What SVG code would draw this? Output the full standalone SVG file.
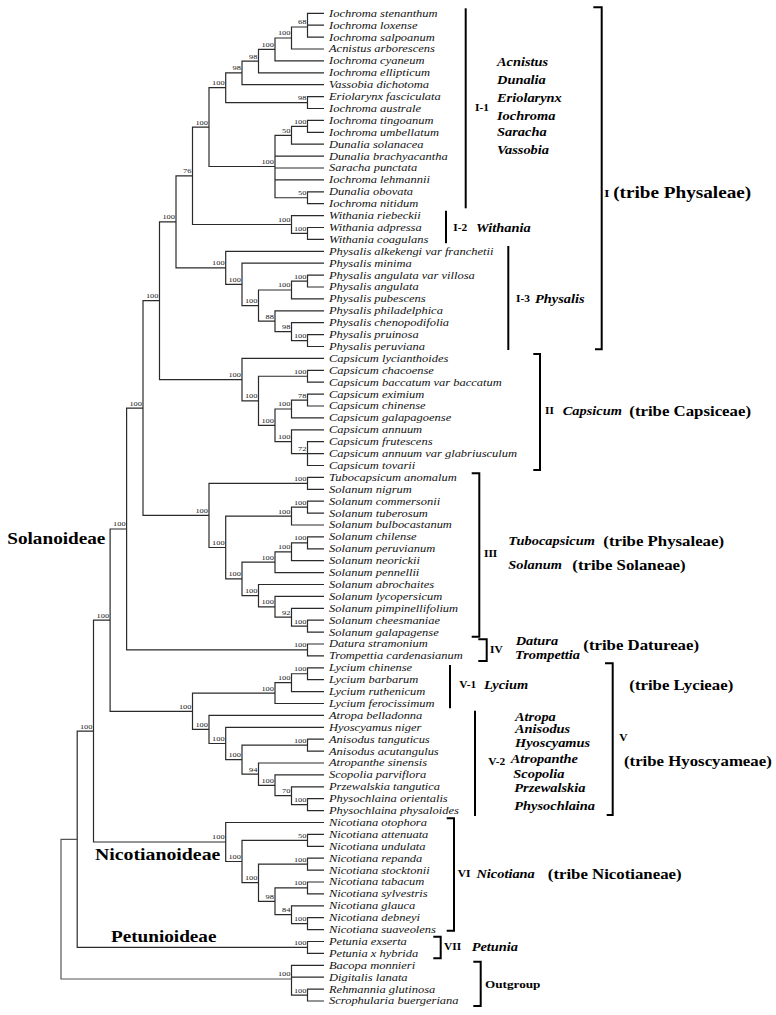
<svg xmlns="http://www.w3.org/2000/svg" width="776" height="1015" viewBox="0 0 776 1015">
<style>
.t{fill:none;stroke:#2a2a2a;stroke-width:1.2}
.b{fill:none;stroke:#000;stroke-width:2}
.l{font-family:"Liberation Serif","Times New Roman",serif;font-style:italic;font-size:10.4px;fill:#111}
.s{font-family:"Liberation Serif","Times New Roman",serif;font-size:7px;fill:#222;text-anchor:end}
.r{font-family:"Liberation Serif","Times New Roman",serif;font-weight:bold;font-size:9.5px;fill:#000}
.g{font-family:"Liberation Serif","Times New Roman",serif;font-weight:bold;font-style:italic;font-size:12px;fill:#000}
.tr{font-family:"Liberation Serif","Times New Roman",serif;font-weight:bold;font-size:14px;fill:#000}
.sf{font-family:"Liberation Serif","Times New Roman",serif;font-weight:bold;font-size:16px;fill:#000}
</style>
<rect width="776" height="1015" fill="#fff"/>
<g id="connectors" class="t">
<path d="M324 13.3H307.5V37.1H324M307.5 25.2H324"/>
<path d="M307.5 27H291.5V49H324"/>
<path d="M291.5 38H275V60.9H324"/>
<path d="M275 49.45H258.5V72.8H324"/>
<path d="M258.5 61.1H242V84.7H324"/>
<path d="M324 96.6H307.5V108.5H324"/>
<path d="M242 72.9H225.7V102.55H307.5"/>
<path d="M324 120.4H307.5V132.3H324"/>
<path d="M307.5 126.35H291.5V144.2H324"/>
<path d="M324 191.8H307.5V203.7H324"/>
<path d="M291.5 135.3H275V197.75H307.5M275 156.1H324M275 168H324M275 179.9H324"/>
<path d="M225.7 87.7H209V166.5H275"/>
<path d="M324 227.5H307.5V239.4H324"/>
<path d="M324 215.6H291.5V233.45H307.5"/>
<path d="M209 127.1H192.5V224.5H291.5"/>
<path d="M324 275.1H307.5V287H324"/>
<path d="M307.5 281.05H291.5V298.9H324"/>
<path d="M324 334.6H307.5V346.5H324"/>
<path d="M324 322.7H291.5V340.55H307.5"/>
<path d="M324 310.8H275V331.6H291.5"/>
<path d="M291.5 290H258.5V321.2H275"/>
<path d="M324 263.2H242V305.6H258.5"/>
<path d="M324 251.3H225.7V284.4H242"/>
<path d="M192.5 175.8H176V267.85H225.7"/>
<path d="M324 370.3H307.5V382.2H324"/>
<path d="M324 394.1H307.5V406H324"/>
<path d="M307.5 400.05H291.5V417.9H324"/>
<path d="M324 441.7H307.5V465.5H324M307.5 453.6H324"/>
<path d="M324 429.8H291.5V453.6H307.5"/>
<path d="M291.5 409H275V441.7H291.5"/>
<path d="M307.5 376.25H258.5V425.35H275"/>
<path d="M324 358.4H242V400.8H258.5"/>
<path d="M176 221.8H159.5V379.6H242"/>
<path d="M324 477.4H307.5V489.3H324"/>
<path d="M324 501.2H307.5V513.1H324"/>
<path d="M307.5 507.15H291.5V525H324"/>
<path d="M324 536.9H307.5V548.8H324"/>
<path d="M307.5 542.85H291.5V560.7H324"/>
<path d="M291.5 551.8H275V572.6H324"/>
<path d="M324 620.2H307.5V632.1H324"/>
<path d="M324 608.3H291.5V626.15H307.5"/>
<path d="M324 596.4H275V617.2H291.5"/>
<path d="M324 584.5H258.5V606.8H275"/>
<path d="M275 562.2H242V595.65H258.5"/>
<path d="M291.5 516.1H225.7V578.9H242"/>
<path d="M307.5 483.35H209V547.5H225.7"/>
<path d="M159.5 300.7H143V515.4H209"/>
<path d="M324 644H307.5V655.9H324"/>
<path d="M143 408.05H126.6V649.95H307.5"/>
<path d="M324 667.8H307.5V679.7H324"/>
<path d="M307.5 673.75H291.5V691.6H324"/>
<path d="M291.5 682.7H275V703.5H324"/>
<path d="M324 798.7H307.5V810.6H324"/>
<path d="M324 786.8H291.5V804.65H307.5"/>
<path d="M324 774.9H275V795.7H291.5"/>
<path d="M324 763H258.5V785.3H275"/>
<path d="M324 739.2H307.5V751.1H324"/>
<path d="M307.5 745.15H242V774.15H258.5"/>
<path d="M324 727.3H225.7V759.65H242"/>
<path d="M324 715.4H209V743.5H225.7"/>
<path d="M275 693.1H192.5V729.45H209"/>
<path d="M126.6 529H110.1V711.3H192.5"/>
<path d="M324 834.4H307.5V846.3H324"/>
<path d="M324 858.2H307.5V870.1H324"/>
<path d="M324 882H307.5V893.9H324"/>
<path d="M324 917.7H307.5V929.6H324"/>
<path d="M324 905.8H291.5V923.65H307.5"/>
<path d="M307.5 887.95H275V914.7H291.5"/>
<path d="M307.5 864.15H258.5V901.3H275"/>
<path d="M307.5 840.35H242V882.7H258.5"/>
<path d="M324 822.5H225.7V861.5H242"/>
<path d="M110.1 620.15H93.5V842H225.7"/>
<path d="M324 941.5H307.5V953.4H324"/>
<path d="M93.5 731.1H77.2V947.45H307.5"/>
<path d="M324 989.1H307.5V1001H324"/>
<path d="M324 965.3H291.5V995.05H307.5M291.5 977.2H324"/>
<path d="M77.2 839.3H61V979H291.5" stroke="#555"/>
</g>
<g id="brackets" class="b">
<path d="M465.7 8.3V208.3"/>
<path d="M446 210.7V243.3"/>
<path d="M508.3 246V350"/>
<path d="M593.3 7.3H601.7V349.3H595"/>
<path d="M533.3 354H540V470H533.3"/>
<path d="M471.7 473.3H479.3V636.7H471.7"/>
<path d="M478.3 639.3H486.7V661H478.3"/>
<path d="M450 665V708.3"/>
<path d="M605 663.3H612.7V815H606.7"/>
<path d="M475 710.7V816"/>
<path d="M446.7 818.3H454V930.7H446.7"/>
<path d="M433.3 936.7H440.7V958.3H433.3"/>
<path d="M473.3 961.7H480.7V1006H473.3"/>
</g>
<g transform="scale(1.2 1)">
<g id="leaves" class="l">
<text id="n1" x="274.17" y="16.8">Iochroma stenanthum</text>
<text id="n2" x="274.17" y="28.7">Iochroma loxense</text>
<text id="n3" x="274.17" y="40.6">Iochroma salpoanum</text>
<text id="n4" x="274.17" y="52.5">Acnistus arborescens</text>
<text id="n5" x="274.17" y="64.4">Iochroma cyaneum</text>
<text id="n6" x="274.17" y="76.3">Iochroma ellipticum</text>
<text id="n7" x="274.17" y="88.2">Vassobia dichotoma</text>
<text id="n8" x="274.17" y="100.1">Eriolarynx fasciculata</text>
<text id="n9" x="274.17" y="112">Iochroma australe</text>
<text id="n10" x="274.17" y="123.9">Iochroma tingoanum</text>
<text id="n11" x="274.17" y="135.8">Iochroma umbellatum</text>
<text id="n12" x="274.17" y="147.7">Dunalia solanacea</text>
<text id="n13" x="274.17" y="159.6">Dunalia  brachyacantha</text>
<text id="n14" x="274.17" y="171.5">Saracha  punctata</text>
<text id="n15" x="274.17" y="183.4">Iochroma lehmannii</text>
<text id="n16" x="274.17" y="195.3">Dunalia obovata</text>
<text id="n17" x="274.17" y="207.2">Iochroma nitidum</text>
<text id="n18" x="274.17" y="219.1">Withania riebeckii</text>
<text id="n19" x="274.17" y="231">Withania adpressa</text>
<text id="n20" x="274.17" y="242.9">Withania coagulans</text>
<text id="n21" x="274.17" y="254.8">Physalis alkekengi var franchetii</text>
<text id="n22" x="274.17" y="266.7">Physalis minima</text>
<text id="n23" x="274.17" y="278.6">Physalis angulata var villosa</text>
<text id="n24" x="274.17" y="290.5">Physalis angulata</text>
<text id="n25" x="274.17" y="302.4">Physalis pubescens</text>
<text id="n26" x="274.17" y="314.3">Physalis philadelphica</text>
<text id="n27" x="274.17" y="326.2">Physalis chenopodifolia</text>
<text id="n28" x="274.17" y="338.1">Physalis pruinosa</text>
<text id="n29" x="274.17" y="350">Physalis peruviana</text>
<text id="n30" x="274.17" y="361.9">Capsicum lycianthoides</text>
<text id="n31" x="274.17" y="373.8">Capsicum chacoense</text>
<text id="n32" x="274.17" y="385.7">Capsicum baccatum var baccatum</text>
<text id="n33" x="274.17" y="397.6">Capsicum eximium</text>
<text id="n34" x="274.17" y="409.5">Capsicum chinense</text>
<text id="n35" x="274.17" y="421.4">Capsicum galapagoense</text>
<text id="n36" x="274.17" y="433.3">Capsicum  annuum</text>
<text id="n37" x="274.17" y="445.2">Capsicum frutescens</text>
<text id="n38" x="274.17" y="457.1">Capsicum annuum var glabriusculum</text>
<text id="n39" x="274.17" y="469">Capsicum tovarii</text>
<text id="n40" x="274.17" y="480.9">Tubocapsicum anomalum</text>
<text id="n41" x="274.17" y="492.8">Solanum nigrum</text>
<text id="n42" x="274.17" y="504.7">Solanum commersonii</text>
<text id="n43" x="274.17" y="516.6">Solanum tuberosum</text>
<text id="n44" x="274.17" y="528.5">Solanum  bulbocastanum</text>
<text id="n45" x="274.17" y="540.4">Solanum chilense</text>
<text id="n46" x="274.17" y="552.3">Solanum  peruvianum</text>
<text id="n47" x="274.17" y="564.2">Solanum neorickii</text>
<text id="n48" x="274.17" y="576.1">Solanum pennellii</text>
<text id="n49" x="274.17" y="588">Solanum abrochaites</text>
<text id="n50" x="274.17" y="599.9">Solanum lycopersicum</text>
<text id="n51" x="274.17" y="611.8">Solanum pimpinellifolium</text>
<text id="n52" x="274.17" y="623.7">Solanum cheesmaniae</text>
<text id="n53" x="274.17" y="635.6">Solanum  galapagense</text>
<text id="n54" x="274.17" y="647.5">Datura stramonium</text>
<text id="n55" x="274.17" y="659.4">Trompettia cardenasianum</text>
<text id="n56" x="274.17" y="671.3">Lycium chinense</text>
<text id="n57" x="274.17" y="683.2">Lycium  barbarum</text>
<text id="n58" x="274.17" y="695.1">Lycium ruthenicum</text>
<text id="n59" x="274.17" y="707">Lycium ferocissimum</text>
<text id="n60" x="274.17" y="718.9">Atropa belladonna</text>
<text id="n61" x="274.17" y="730.8">Hyoscyamus niger</text>
<text id="n62" x="274.17" y="742.7">Anisodus tanguticus</text>
<text id="n63" x="274.17" y="754.6">Anisodus  acutangulus</text>
<text id="n64" x="274.17" y="766.5">Atropanthe sinensis</text>
<text id="n65" x="274.17" y="778.4">Scopolia parviflora</text>
<text id="n66" x="274.17" y="790.3">Przewalskia tangutica</text>
<text id="n67" x="274.17" y="802.2">Physochlaina orientalis</text>
<text id="n68" x="274.17" y="814.1">Physochlaina physaloides</text>
<text id="n69" x="274.17" y="826">Nicotiana otophora</text>
<text id="n70" x="274.17" y="837.9">Nicotiana attenuata</text>
<text id="n71" x="274.17" y="849.8">Nicotiana undulata</text>
<text id="n72" x="274.17" y="861.7">Nicotiana repanda</text>
<text id="n73" x="274.17" y="873.6">Nicotiana stocktonii</text>
<text id="n74" x="274.17" y="885.5">Nicotiana tabacum</text>
<text id="n75" x="274.17" y="897.4">Nicotiana sylvestris</text>
<text id="n76" x="274.17" y="909.3">Nicotiana glauca</text>
<text id="n77" x="274.17" y="921.2">Nicotiana debneyi</text>
<text id="n78" x="274.17" y="933.1">Nicotiana suaveolens</text>
<text id="n79" x="274.17" y="945">Petunia exserta</text>
<text id="n80" x="274.17" y="956.9">Petunia x hybrida</text>
<text id="n81" x="274.17" y="968.8">Bacopa monnieri</text>
<text id="n82" x="274.17" y="980.7">Digitalis lanata</text>
<text id="n83" x="274.17" y="992.6">Rehmannia  glutinosa</text>
<text id="n84" x="274.17" y="1004.5">Scrophularia buergeriana</text>
</g>
<g id="support" class="s">
<text x="255.42" y="24.5">68</text>
<text x="242.08" y="35.5">100</text>
<text x="228.33" y="46.95">100</text>
<text x="214.58" y="58.6">98</text>
<text x="200.83" y="70.4">98</text>
<text x="255.42" y="100.05">98</text>
<text x="187.25" y="85.2">100</text>
<text x="255.42" y="123.85">100</text>
<text x="242.08" y="132.8">50</text>
<text x="255.42" y="195.25">50</text>
<text x="228.33" y="164">100</text>
<text x="173.33" y="124.6">100</text>
<text x="255.42" y="230.95">100</text>
<text x="242.08" y="222">100</text>
<text x="159.58" y="173.3">76</text>
<text x="255.42" y="278.55">100</text>
<text x="242.08" y="287.5">100</text>
<text x="255.42" y="338.05">100</text>
<text x="242.08" y="329.1">98</text>
<text x="228.33" y="318.7">88</text>
<text x="214.58" y="303.1">100</text>
<text x="200.83" y="281.9">100</text>
<text x="187.25" y="265.35">100</text>
<text x="145.83" y="219.3">100</text>
<text x="255.42" y="373.75">100</text>
<text x="255.42" y="397.55">78</text>
<text x="242.08" y="406.5">100</text>
<text x="255.42" y="451.1">72</text>
<text x="242.08" y="439.2">100</text>
<text x="228.33" y="422.85">100</text>
<text x="214.58" y="398.3">100</text>
<text x="200.83" y="377.1">100</text>
<text x="132.08" y="298.2">100</text>
<text x="255.42" y="480.85">100</text>
<text x="255.42" y="504.65">100</text>
<text x="242.08" y="513.6">100</text>
<text x="255.42" y="540.35">100</text>
<text x="242.08" y="549.3">100</text>
<text x="228.33" y="559.7">100</text>
<text x="255.42" y="623.65">100</text>
<text x="242.08" y="614.7">92</text>
<text x="228.33" y="604.3">100</text>
<text x="214.58" y="593.15">100</text>
<text x="200.83" y="576.4">100</text>
<text x="187.25" y="545">100</text>
<text x="173.33" y="512.9">100</text>
<text x="118.33" y="405.55">100</text>
<text x="255.42" y="647.45">100</text>
<text x="104.67" y="526.5">100</text>
<text x="255.42" y="671.25">100</text>
<text x="242.08" y="680.2">100</text>
<text x="228.33" y="690.6">100</text>
<text x="159.58" y="708.8">100</text>
<text x="173.33" y="726.95">100</text>
<text x="187.25" y="741">100</text>
<text x="200.83" y="757.15">100</text>
<text x="255.42" y="742.65">100</text>
<text x="214.58" y="771.65">94</text>
<text x="228.33" y="782.8">100</text>
<text x="242.08" y="793.2">70</text>
<text x="255.42" y="802.15">100</text>
<text x="90.92" y="617.65">100</text>
<text x="187.25" y="839.5">100</text>
<text x="200.83" y="859">100</text>
<text x="255.42" y="837.85">50</text>
<text x="214.58" y="880.2">100</text>
<text x="255.42" y="861.65">100</text>
<text x="228.33" y="898.8">98</text>
<text x="255.42" y="885.45">100</text>
<text x="242.08" y="912.2">84</text>
<text x="255.42" y="921.15">100</text>
<text x="77.08" y="728.6">100</text>
<text x="255.42" y="944.95">100</text>
<text x="242.08" y="976.5">100</text>
<text x="255.42" y="992.55">100</text>
</g>
<g id="clade-I-1">
<text class="r" x="395.83" y="111.5">I-1</text>
<text class="g" x="414.17" y="66.3">Acnistus</text>
<text class="g" x="414.17" y="84">Dunalia</text>
<text class="g" x="414.17" y="101.7">Eriolarynx</text>
<text class="g" x="414.17" y="120">Iochroma</text>
<text class="g" x="414.17" y="136">Saracha</text>
<text class="g" x="414.17" y="153.7">Vassobia</text>
</g>
<g id="clade-I">
<text class="r" x="503.5" y="197" style="font-size:11px">I</text>
<text class="sf" x="511" y="198">(tribe Physaleae)</text>
</g>
<g id="clade-I-2">
<text class="r" x="377.75" y="231">I-2</text>
<text class="g" x="396.67" y="231.7">Withania</text>
</g>
<g id="clade-I-3">
<text class="r" x="430" y="302">I-3</text>
<text class="g" x="445.83" y="303">Physalis</text>
</g>
<g id="clade-II">
<text class="r" x="454.17" y="414.2">II</text>
<text class="g" x="468.92" y="415">Capsicum</text>
<text class="tr" x="524.42" y="415.7">(tribe Capsiceae)</text>
</g>
<g id="clade-III">
<text class="r" x="403.33" y="557.5">III</text>
<text class="g" x="423.58" y="545">Tubocapsicum</text>
<text class="tr" x="502.75" y="545.7">(tribe Physaleae)</text>
<text class="g" x="423.58" y="569">Solanum</text>
<text class="tr" x="476.92" y="569.7">(tribe Solaneae)</text>
</g>
<g id="clade-IV">
<text class="r" x="408.33" y="653.2">IV</text>
<text class="g" x="429.75" y="645">Datura</text>
<text class="g" x="429.17" y="659">Trompettia</text>
<text class="tr" x="486.08" y="649.7">(tribe Datureae)</text>
</g>
<g id="clade-V">
<text class="r" x="382.75" y="688.2">V-1</text>
<text class="g" x="403.33" y="689">Lycium</text>
<text class="tr" x="524.42" y="689.7">(tribe Lycieae)</text>
<text class="r" x="516.08" y="741.5">V</text>
<text class="tr" x="520" y="766.4">(tribe Hyoscyameae)</text>
<text class="r" x="406.92" y="764.9">V-2</text>
<text class="g" x="429.17" y="720.7">Atropa</text>
<text class="g" x="429.17" y="733.3">Anisodus</text>
<text class="g" x="429.17" y="747.3">Hyoscyamus</text>
<text class="g" x="425.58" y="763.3">Atropanthe</text>
<text class="g" x="427.75" y="778.3">Scopolia</text>
<text class="g" x="428.58" y="792.3">Przewalskia</text>
<text class="g" x="428.58" y="809.7">Physochlaina</text>
</g>
<g id="clade-VI">
<text class="r" x="381.5" y="877.5">VI</text>
<text class="g" x="397" y="878.3">Nicotiana</text>
<text class="tr" x="456.5" y="879">(tribe Nicotianeae)</text>
</g>
<g id="clade-VII">
<text class="r" x="370" y="950.5">VII</text>
<text class="g" x="393.08" y="951.3">Petunia</text>
</g>
<g id="outgroup">
<text class="r" x="404.17" y="987.7" style="font-size:11px">Outgroup</text>
</g>
<g id="subfamilies">
<text class="sf" x="6.08" y="544">Solanoideae</text>
<text class="sf" x="79.17" y="860.5" style="font-size:16.5px">Nicotianoideae</text>
<text class="sf" x="92.5" y="942.2">Petunioideae</text>
</g>
</g>
</svg>
